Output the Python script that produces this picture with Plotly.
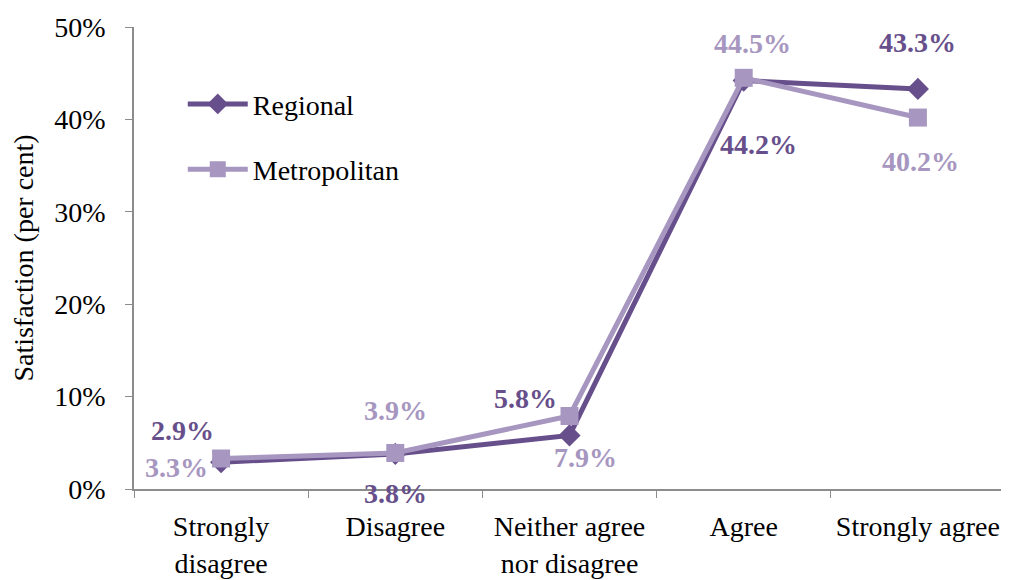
import plotly.graph_objects as go

categories = ["Strongly<br>disagree", "Disagree", "Neither agree<br>nor disagree", "Agree", "Strongly agree"]
regional = [2.9, 3.8, 5.8, 44.2, 43.3]
metropolitan = [3.3, 3.9, 7.9, 44.5, 40.2]
y_ticks = [0, 10, 20, 30, 40, 50]
y_tick_labels = ["0%", "10%", "20%", "30%", "40%", "50%"]

C_REG = "#674F8B"
C_MET = "#A696C0"
FONT = "Liberation Serif"
FS = 28

fig = go.Figure()
fig.add_trace(go.Scatter(
    x=categories, y=regional, name="Regional", mode="lines+markers",
    line=dict(color=C_REG, width=5),
    marker=dict(symbol="diamond", size=17, color=C_REG),
    legendgroup="a",
))
fig.add_trace(go.Scatter(
    x=categories, y=metropolitan, name="Metropolitan", mode="lines+markers",
    line=dict(color=C_MET, width=5),
    marker=dict(symbol="square", size=18, color=C_MET),
    legendgroup="b",
))

# label offsets (pixels) for each series
reg_shift = [(-39, 32), (0, -40), (-44, 37), (15, -64), (0, 46)]
met_shift = [(-45, -9), (0, 42), (16, -41), (9, 34), (3, -44)]

for series, color, shifts in ((regional, C_REG, reg_shift), (metropolitan, C_MET, met_shift)):
    for cat, val, (dx, dy) in zip(categories, series, shifts):
        fig.add_annotation(
            x=cat, y=val, xref="x", yref="y", text=f"<b>{val:.1f}%</b>",
            showarrow=False, xshift=dx, yshift=dy,
            font=dict(family=FONT, size=FS, color=color),
        )

# the page body adds an 8px margin, so the figure is sized to fit inside the window
fig.update_layout(
    width=1001, height=572,
    margin=dict(l=126, r=4, t=19, b=91),
    paper_bgcolor="white", plot_bgcolor="white",
    font=dict(family=FONT, size=FS, color="black"),
    showlegend=True,
    legend=dict(
        x=0.056, y=0.887, xanchor="left", yanchor="top",
        bgcolor="rgba(0,0,0,0)", itemwidth=60, tracegroupgap=26,
        font=dict(family=FONT, size=FS, color="black"),
    ),
    xaxis=dict(
        type="category", showline=True, linecolor="#8C8C8C", linewidth=1.5,
        ticks="outside", ticklen=7, tickcolor="#8C8C8C", tickson="boundaries",
        showgrid=False, tickfont=dict(family=FONT, size=FS, color="black"),
        range=[-0.5, 4.5], automargin=False, ticklabelstandoff=12,
    ),
    yaxis=dict(
        range=[0, 50], tickvals=y_ticks, ticktext=y_tick_labels,
        showline=True, linecolor="#8C8C8C", linewidth=1.5,
        ticks="outside", ticklen=7, tickcolor="#8C8C8C",
        showgrid=False, zeroline=False, automargin=False, ticklabelstandoff=14,
        tickfont=dict(family=FONT, size=FS, color="black"),
        title=dict(text="Satisfaction (per cent)", font=dict(family=FONT, size=FS, color="black"), standoff=18),
    ),
)

fig.write_html("out.html")
